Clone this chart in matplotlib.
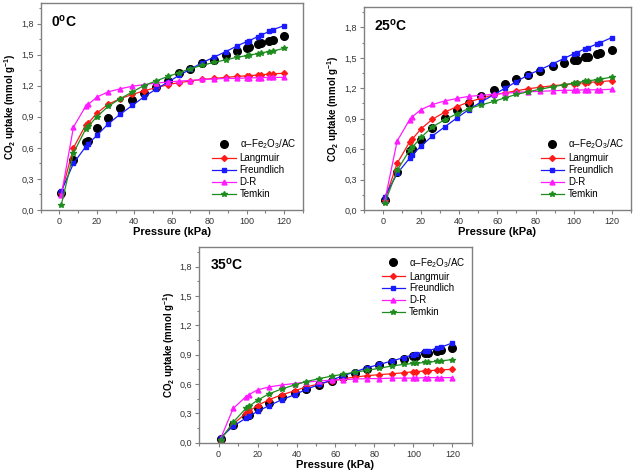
import matplotlib
matplotlib.use("Agg")
import matplotlib.pyplot as plt
from matplotlib.ticker import FuncFormatter, MultipleLocator

plt.rcParams['font.family'] = ['Liberation Sans', 'DejaVu Sans']
plt.rcParams['mathtext.fontset'] = 'custom'
plt.rcParams['mathtext.rm'] = 'Liberation Sans'
plt.rcParams['mathtext.it'] = 'Liberation Sans:italic'
plt.rcParams['mathtext.bf'] = 'Liberation Sans:bold'

pressure = [1, 7.5, 14, 15.5, 20, 26, 32.5, 39, 45, 51.5, 58, 64, 70, 76, 82.5,
            89, 95, 100, 101.5, 106, 107.5, 112, 114, 120]

exp_0 = [0.16, 0.48, 0.66, 0.67, 0.79, 0.89, 0.98, 1.065, 1.13, 1.19, 1.25, 1.32, 1.365, 1.415, 1.45,
         1.50, 1.535, 1.565, 1.57, 1.605, 1.61, 1.635, 1.645, 1.68]
lang_0 = [0.16, 0.60, 0.82, 0.84, 0.935, 1.02, 1.075, 1.115, 1.15, 1.18, 1.21, 1.23, 1.245, 1.26, 1.27,
          1.28, 1.29, 1.295, 1.297, 1.303, 1.305, 1.312, 1.315, 1.32]
freu_0 = [0.18, 0.45, 0.61, 0.64, 0.72, 0.83, 0.925, 1.01, 1.09, 1.165, 1.235, 1.30, 1.36, 1.42, 1.475,
          1.53, 1.585, 1.625, 1.635, 1.675, 1.685, 1.725, 1.74, 1.78]
dr_0 = [0.14, 0.80, 1.00, 1.02, 1.09, 1.14, 1.17, 1.195, 1.21, 1.225, 1.235, 1.245, 1.25, 1.26, 1.265,
        1.27, 1.27, 1.275, 1.275, 1.277, 1.277, 1.28, 1.28, 1.28]
temk_0 = [0.05, 0.55, 0.78, 0.81, 0.90, 1.00, 1.075, 1.14, 1.20, 1.245, 1.29, 1.325, 1.365, 1.395, 1.425,
          1.45, 1.475, 1.49, 1.495, 1.51, 1.515, 1.53, 1.535, 1.56]

exp_25 = [0.10, 0.37, 0.585, 0.60, 0.69, 0.81, 0.905, 0.99, 1.05, 1.12, 1.185, 1.24, 1.29, 1.33, 1.375,
          1.415, 1.45, 1.475, 1.48, 1.505, 1.51, 1.54, 1.545, 1.575]
lang_25 = [0.10, 0.46, 0.67, 0.70, 0.80, 0.895, 0.965, 1.02, 1.065, 1.10, 1.135, 1.155, 1.175, 1.195, 1.21,
           1.225, 1.235, 1.245, 1.247, 1.255, 1.257, 1.263, 1.265, 1.275]
freu_25 = [0.13, 0.36, 0.51, 0.545, 0.63, 0.73, 0.82, 0.91, 0.99, 1.065, 1.135, 1.20, 1.265, 1.33, 1.385,
           1.44, 1.495, 1.54, 1.55, 1.59, 1.60, 1.635, 1.65, 1.70]
dr_25 = [0.09, 0.68, 0.89, 0.92, 0.99, 1.04, 1.075, 1.10, 1.12, 1.13, 1.14, 1.15, 1.16, 1.165, 1.17,
         1.175, 1.18, 1.18, 1.18, 1.185, 1.185, 1.185, 1.185, 1.19]
temk_25 = [0.07, 0.39, 0.59, 0.62, 0.715, 0.82, 0.89, 0.95, 1.00, 1.035, 1.07, 1.105, 1.14, 1.165, 1.19,
           1.215, 1.235, 1.25, 1.255, 1.27, 1.272, 1.285, 1.29, 1.31]

exp_35 = [0.04, 0.18, 0.275, 0.285, 0.35, 0.41, 0.47, 0.51, 0.55, 0.59, 0.63, 0.67, 0.71, 0.75, 0.79,
          0.82, 0.86, 0.885, 0.89, 0.915, 0.92, 0.94, 0.945, 0.97]
lang_35 = [0.04, 0.19, 0.30, 0.32, 0.38, 0.44, 0.49, 0.53, 0.57, 0.60, 0.63, 0.655, 0.67, 0.685, 0.695,
           0.705, 0.715, 0.725, 0.727, 0.733, 0.735, 0.742, 0.745, 0.75]
freu_35 = [0.05, 0.17, 0.25, 0.27, 0.32, 0.38, 0.44, 0.49, 0.545, 0.595, 0.64, 0.685, 0.725, 0.765, 0.80,
           0.835, 0.87, 0.90, 0.905, 0.935, 0.94, 0.965, 0.975, 1.02]
dr_35 = [0.04, 0.35, 0.47, 0.49, 0.54, 0.57, 0.59, 0.605, 0.62, 0.63, 0.64, 0.645, 0.65, 0.655, 0.655,
         0.66, 0.66, 0.66, 0.66, 0.665, 0.665, 0.665, 0.665, 0.665]
temk_35 = [0.03, 0.21, 0.35, 0.37, 0.435, 0.50, 0.55, 0.59, 0.625, 0.655, 0.68, 0.70, 0.72, 0.74, 0.76,
           0.785, 0.80, 0.81, 0.812, 0.82, 0.822, 0.832, 0.835, 0.85]

temps = ["0", "25", "35"]
series_names = ["Langmuir", "Freundlich", "D-R", "Temkin"]
exp_label = "α–Fe$_2$O$_3$/AC"

panels = [
    (temps[0], exp_0, [lang_0, freu_0, dr_0, temk_0]),
    (temps[1], exp_25, [lang_25, freu_25, dr_25, temk_25]),
    (temps[2], exp_35, [lang_35, freu_35, dr_35, temk_35]),
]

colors = ['#ff1a1a', '#1a1aff', '#ff1aff', '#1e8c1e']
markers = ['D', 's', '^', '*']
msizes = [3, 3, 3.5, 4]

fig = plt.figure(figsize=(6.36, 4.75), dpi=100)
rects = [
    [0.064, 0.558, 0.412, 0.436],
    [0.572, 0.558, 0.420, 0.427],
    [0.313, 0.068, 0.429, 0.412],
]
legend_locs = [
    dict(loc='lower right', bbox_to_anchor=(1.0, 0.02)),
    dict(loc='lower right', bbox_to_anchor=(1.0, 0.02)),
    dict(loc='upper right', bbox_to_anchor=(1.0, 0.99)),
]

comma = FuncFormatter(lambda v, p: f"{v:.1f}".replace('.', ','))
frame_col = '#808080'

for rect, (temp, exp, models), lloc in zip(rects, panels, legend_locs):
    ax = fig.add_axes(rect)
    ax.plot(pressure, exp, 'o', color='black', markersize=5.5, label=exp_label, zorder=2)
    for name, vals, c, m, ms in zip(series_names, models, colors, markers, msizes):
        ax.plot(pressure, vals, '-', color=c, marker=m, markersize=ms, linewidth=0.9,
                label=name, zorder=3)
    ax.set_xlim(-10, 130)
    ax.set_ylim(0, 2.0)
    ax.xaxis.set_major_locator(MultipleLocator(20))
    ax.xaxis.set_minor_locator(MultipleLocator(10))
    ax.yaxis.set_major_locator(MultipleLocator(0.3))
    ax.yaxis.set_minor_locator(MultipleLocator(0.15))
    ax.yaxis.set_major_formatter(comma)
    for s in ax.spines.values():
        s.set_color(frame_col)
        s.set_linewidth(1.0)
    ax.tick_params(which='both', direction='out', color=frame_col, labelsize=6.5,
                   labelcolor='#333333', width=0.8, pad=2)
    ax.tick_params(which='major', length=3)
    ax.tick_params(which='minor', length=1.8)
    ax.set_xlabel("Pressure (kPa)", fontsize=8, fontweight='bold', labelpad=1)
    ax.set_ylabel("CO$_\\mathbf{2}$ uptake (mmol g$^\\mathbf{-1}$)", fontsize=7,
                  fontweight='bold', labelpad=2)
    ax.text(0.04, 0.95, f"{temp}$^\\mathbf{{o}}$C", transform=ax.transAxes, fontsize=10,
            fontweight='bold', va='top', ha='left')
    ax.legend(frameon=False, fontsize=7, handlelength=2.4, handletextpad=0.4,
              labelspacing=0.2, borderaxespad=0.3, **lloc)

fig.savefig("out.png", dpi=100)
